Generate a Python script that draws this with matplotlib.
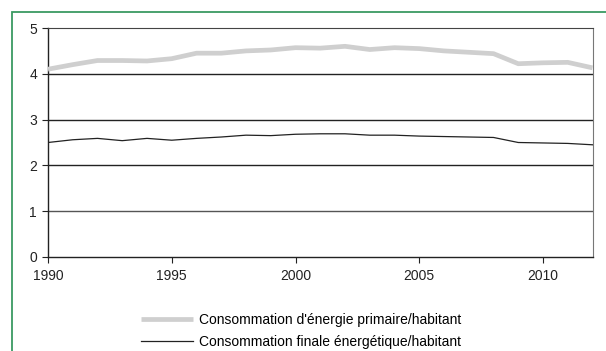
import numpy as np
import matplotlib.pyplot as plt
from matplotlib.patches import Rectangle

years = list(range(1990, 2013))
primaire = [4.10, 4.20, 4.29, 4.29, 4.28, 4.33, 4.45, 4.45, 4.50, 4.52, 4.57, 4.56, 4.60,
            4.53, 4.57, 4.55, 4.50, 4.47, 4.44, 4.22, 4.24, 4.25, 4.13]
finale = [2.50, 2.56, 2.59, 2.54, 2.59, 2.55, 2.59, 2.62, 2.66, 2.65, 2.68, 2.69, 2.69,
          2.66, 2.66, 2.64, 2.63, 2.62, 2.61, 2.50, 2.49, 2.48, 2.45]
xticks = [1990, 1995, 2000, 2005, 2010]
yticks = [0, 1, 2, 3, 4, 5]

W, H = 606, 351
fig = plt.figure(figsize=(W / 100, H / 100), dpi=100)
plt.rcParams['font.family'] = ['Liberation Sans', 'DejaVu Sans']

# green frame around the chart
fig.patches.append(Rectangle((12 / W, -0.1), 1.2, 1 - 12 / H + 0.1, transform=fig.transFigure,
                             fill=False, edgecolor='#3a9a62', linewidth=1.3))

ax = fig.add_axes([48 / W, 1 - 257 / H, (592.5 - 48) / W, (257 - 28) / H])

for y in [1, 2, 3, 4]:
    ax.axhline(y, color='#222222' if y != 1 else '#555555', linewidth=1.0, zorder=1)

l1, = ax.plot(years, primaire, color='#cfcfcf', linewidth=3.4, solid_capstyle='butt', zorder=3,
              label="Consommation d'énergie primaire/habitant")
l2, = ax.plot(years, finale, color='#222222', linewidth=0.9, zorder=3,
              label="Consommation finale énergétique/habitant")

ax.set_xlim(1990, 2012)
ax.set_ylim(0, 5)
ax.set_xticks(xticks)
ax.set_yticks(yticks)
ax.tick_params(axis='both', direction='out', length=4, width=0.8, labelsize=10, colors='#222222')
ax.tick_params(axis='x', pad=5)
ax.tick_params(axis='y', pad=4)
for s in ['left', 'bottom']:
    ax.spines[s].set_color('#222222')
    ax.spines[s].set_linewidth(1.0)
ax.spines['top'].set_color('#444444')
ax.spines['right'].set_color('#777777')

fig.legend(handles=[l1, l2], loc='upper left', bbox_to_anchor=(141 / W, 1 - 313 / H),
           frameon=False, fontsize=10, handlelength=3.75, handletextpad=0.4,
           labelspacing=0.55, borderpad=0, borderaxespad=0)

fig.savefig('out.png', dpi=100)
